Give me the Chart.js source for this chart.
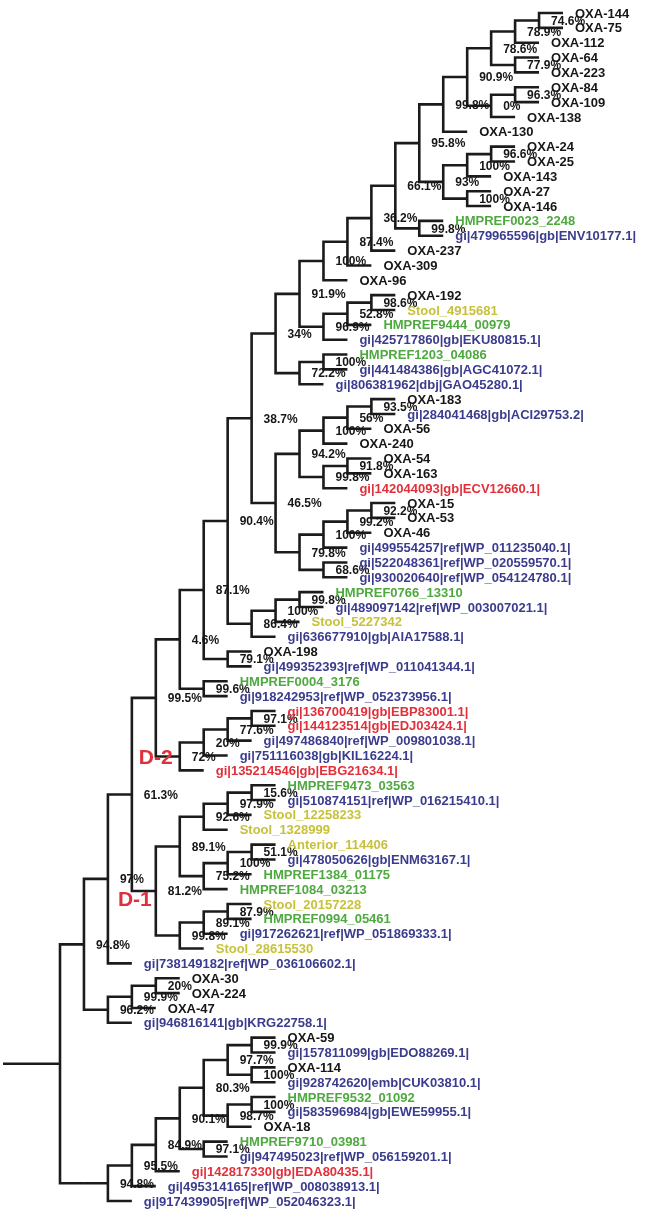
<!DOCTYPE html>
<html>
<head>
<meta charset="utf-8">
<script src="https://cdn.jsdelivr.net/npm/chart.js@4.4.0/dist/chart.umd.min.js"></script>
<style>
    html, body { margin: 0; padding: 0; background: #fff; }
    canvas { display: block; }
</style>
</head>
<body>
<canvas id="tree-chart" width="650" height="1217"></canvas>
<script>
/*** 資料區塊：樹狀結構 (Newick，節點後的數字為 bootstrap %) ***/
const cladeOxaTop = '((((((OXA-144,OXA-75)74.6,OXA-112)78.9,(OXA-64,OXA-223)77.9)78.6,((OXA-84,OXA-109)96.3,OXA-138)0)90.9,OXA-130)99.8,(((OXA-24,OXA-25)96.6,OXA-143)100,(OXA-27,OXA-146)100)93)95.8';
const cladeOxa96 = `((((${cladeOxaTop},(HMPREF0023_2248,gi|479965596|gb|ENV10177.1|)99.8)66.1,OXA-237)36.2,OXA-309)87.4,OXA-96)100`;
const clade34 = `((${cladeOxa96},(((OXA-192,Stool_4915681)98.6,HMPREF9444_00979)52.8,gi|425717860|gb|EKU80815.1|)96.9)91.9,((HMPREF1203_04086,gi|441484386|gb|AGC41072.1|)100,gi|806381962|dbj|GAO45280.1|)72.2)34`;
const clade465 = '(((((OXA-183,gi|284041468|gb|ACI29753.2|)93.5,OXA-56)56,OXA-240)100,((OXA-54,OXA-163)91.8,gi|142044093|gb|ECV12660.1|)99.8)94.2,((((OXA-15,OXA-53)92.2,OXA-46)99.2,gi|499554257|ref|WP_011235040.1|)100,(gi|522048361|ref|WP_020559570.1|,gi|930020640|ref|WP_054124780.1|)68.6)79.8)46.5';
const clade864 = '(((HMPREF0766_13310,gi|489097142|ref|WP_003007021.1|)99.8,Stool_5227342)100,gi|636677910|gb|AIA17588.1|)86.4';
const clade46 = `((((${clade34},${clade465})38.7,${clade864})90.4,(OXA-198,gi|499352393|ref|WP_011041344.1|)79.1)87.1,(HMPREF0004_3176,gi|918242953|ref|WP_052373956.1|)99.6)4.6`;
const cladeD2 = '((((gi|136700419|gb|EBP83001.1|,gi|144123514|gb|EDJ03424.1|)97.1,gi|497486840|ref|WP_009801038.1|)77.6,gi|751116038|gb|KIL16224.1|)20,gi|135214546|gb|EBG21634.1|)72';
const cladeD1 = '(((((HMPREF9473_03563,gi|510874151|ref|WP_016215410.1|)15.6,Stool_12258233)97.9,Stool_1328999)92.6,(((Anterior_114406,gi|478050626|gb|ENM63167.1|)51.1,HMPREF1384_01175)100,HMPREF1084_03213)75.2)89.1,(((Stool_20157228,HMPREF0994_05461)87.9,gi|917262621|ref|WP_051869333.1|)89.1,Stool_28615530)99.8)81.2';
const cladeUpper = `((((${clade46},${cladeD2})99.5,${cladeD1})61.3,gi|738149182|ref|WP_036106602.1|)97,(((OXA-30,OXA-224)20,OXA-47)99.9,gi|946816141|gb|KRG22758.1|)96.2)94.8`;
const cladeLower = '((((((((OXA-59,gi|157811099|gb|EDO88269.1|)99.9,(OXA-114,gi|928742620|emb|CUK03810.1|)100)97.7,((HMPREF9532_01092,gi|583596984|gb|EWE59955.1|)100,OXA-18)98.7)80.3,(HMPREF9710_03981,gi|947495023|ref|WP_056159201.1|)97.1)90.1,gi|142817330|gb|EDA80435.1|)84.9,gi|495314165|ref|WP_008038913.1|)95.5,gi|917439905|ref|WP_052046323.1|)94.8';
const treeNewick = `(${cladeUpper},${cladeLower});`;

const redLeaves = [
    'gi|142044093|gb|ECV12660.1|',
    'gi|136700419|gb|EBP83001.1|',
    'gi|144123514|gb|EDJ03424.1|',
    'gi|135214546|gb|EBG21634.1|',
    'gi|142817330|gb|EDA80435.1|'
];
// [標籤, 分支第一個葉, 分支最後一個葉]
const cladeMarks = [
    ['D-2', 'gi|136700419|gb|EBP83001.1|', 'gi|135214546|gb|EBG21634.1|'],
    ['D-1', 'HMPREF9473_03563', 'Stool_28615530']
];

/*** 樣式 ***/
const FONT = '"Liberation Sans", Arial, sans-serif';
const markOffsets = { 'D-2': [-24, 2], 'D-1': [-21, 9] };
const colors = {
    line: '#1b1b1b',
    oxa: '#161616',
    gi: '#3b3c8e',
    hmp: '#4ea93f',
    stool: '#c7c13b',
    red: '#e2303b',
    mark: '#e0303c'
};

/*** 解析 Newick ***/
function parseNewick(s) {
    let i = 0;
    function readLabel() {
        let lab = '';
        while (i < s.length && !',();'.includes(s[i])) lab += s[i++];
        return lab;
    }
    function node() {
        if (s[i] === '(') {
            i++;
            const children = [node()];
            while (s[i] === ',') { i++; children.push(node()); }
            i++; // ')'
            const lab = readLabel();
            return { children, support: lab === '' ? null : parseFloat(lab) };
        }
        return { name: readLabel() };
    }
    return node();
}

const root = parseNewick(treeNewick);
const leaves = [];
const inner = [];
function layout(n, depth) {
    n.depth = depth;
    if (!n.children) {
        n.y = leaves.length;
        n.first = n.last = n.name;
        leaves.push(n);
        return;
    }
    n.children.forEach(c => layout(c, depth + 1));
    n.y = n.children.reduce((sum, c) => sum + c.y, 0) / n.children.length;
    n.first = n.children[0].first;
    n.last = n.children[n.children.length - 1].last;
    inner.push(n);
}
layout(root, 0);

function leafColor(name) {
    if (redLeaves.includes(name)) return colors.red;
    if (name.startsWith('OXA')) return colors.oxa;
    if (name.startsWith('HMPREF')) return colors.hmp;
    if (name.startsWith('Stool') || name.startsWith('Anterior')) return colors.stool;
    return colors.gi;
}

/*** 圖表資料：每個內部節點一條折線 ***/
const lineStyle = {
    showLine: true,
    pointRadius: 0,
    borderColor: colors.line,
    borderWidth: 2.6,
    borderJoinStyle: 'miter',
    borderCapStyle: 'butt',
    tension: 0
};
const datasets = inner.map(n => {
    const a = n.children[0], b = n.children[n.children.length - 1];
    return Object.assign({
        data: [
            { x: a.depth, y: a.y },
            { x: n.depth, y: a.y },
            { x: n.depth, y: b.y },
            { x: b.depth, y: b.y }
        ]
    }, lineStyle);
});
// 根部短枝
datasets.push(Object.assign({ data: [{ x: -2.38, y: root.y }, { x: 0, y: root.y }] }, lineStyle));

const treeLabels = {
    id: 'treeLabels',
    afterDatasetsDraw(chart) {
        const { ctx, scales: { x, y } } = chart;
        ctx.save();
        ctx.textBaseline = 'middle';
        ctx.textAlign = 'left';

        ctx.font = 'bold 12px ' + FONT;
        ctx.fillStyle = colors.oxa;
        inner.forEach(n => {
            if (n.support === null) return;
            ctx.fillText(n.support + '%', x.getPixelForValue(n.depth) + 12, y.getPixelForValue(n.y) + 1);
        });

        ctx.font = 'bold 13px ' + FONT;
        leaves.forEach(l => {
            ctx.fillStyle = leafColor(l.name);
            ctx.fillText(l.name, x.getPixelForValue(l.depth) + 12, y.getPixelForValue(l.y) + 1);
        });

        ctx.font = 'bold 21px ' + FONT;
        ctx.textAlign = 'center';
        ctx.fillStyle = colors.mark;
        cladeMarks.forEach(([text, first, last]) => {
            const n = inner.find(k => k.first === first && k.last === last);
            if (!n) return;
            const off = markOffsets[text];
            ctx.fillText(text, x.getPixelForValue(n.depth) + off[0], y.getPixelForValue(n.y) + off[1]);
        });
        ctx.restore();
    }
};

const xStep = 503 / 21;
const yStep = 14.85;
const ctx = document.getElementById('tree-chart').getContext('2d');
const treeChart = new Chart(ctx, {
    type: 'scatter',
    data: { datasets },
    options: {
        responsive: false,
        animation: false,
        layout: { padding: 0 },
        plugins: {
            legend: { display: false },
            tooltip: { enabled: false }
        },
        scales: {
            x: { type: 'linear', display: false, min: -60 / xStep, max: 590 / xStep },
            y: { type: 'linear', display: false, reverse: true, min: -13 / yStep, max: 1204 / yStep }
        }
    },
    plugins: [treeLabels]
});
</script>
</body>
</html>
